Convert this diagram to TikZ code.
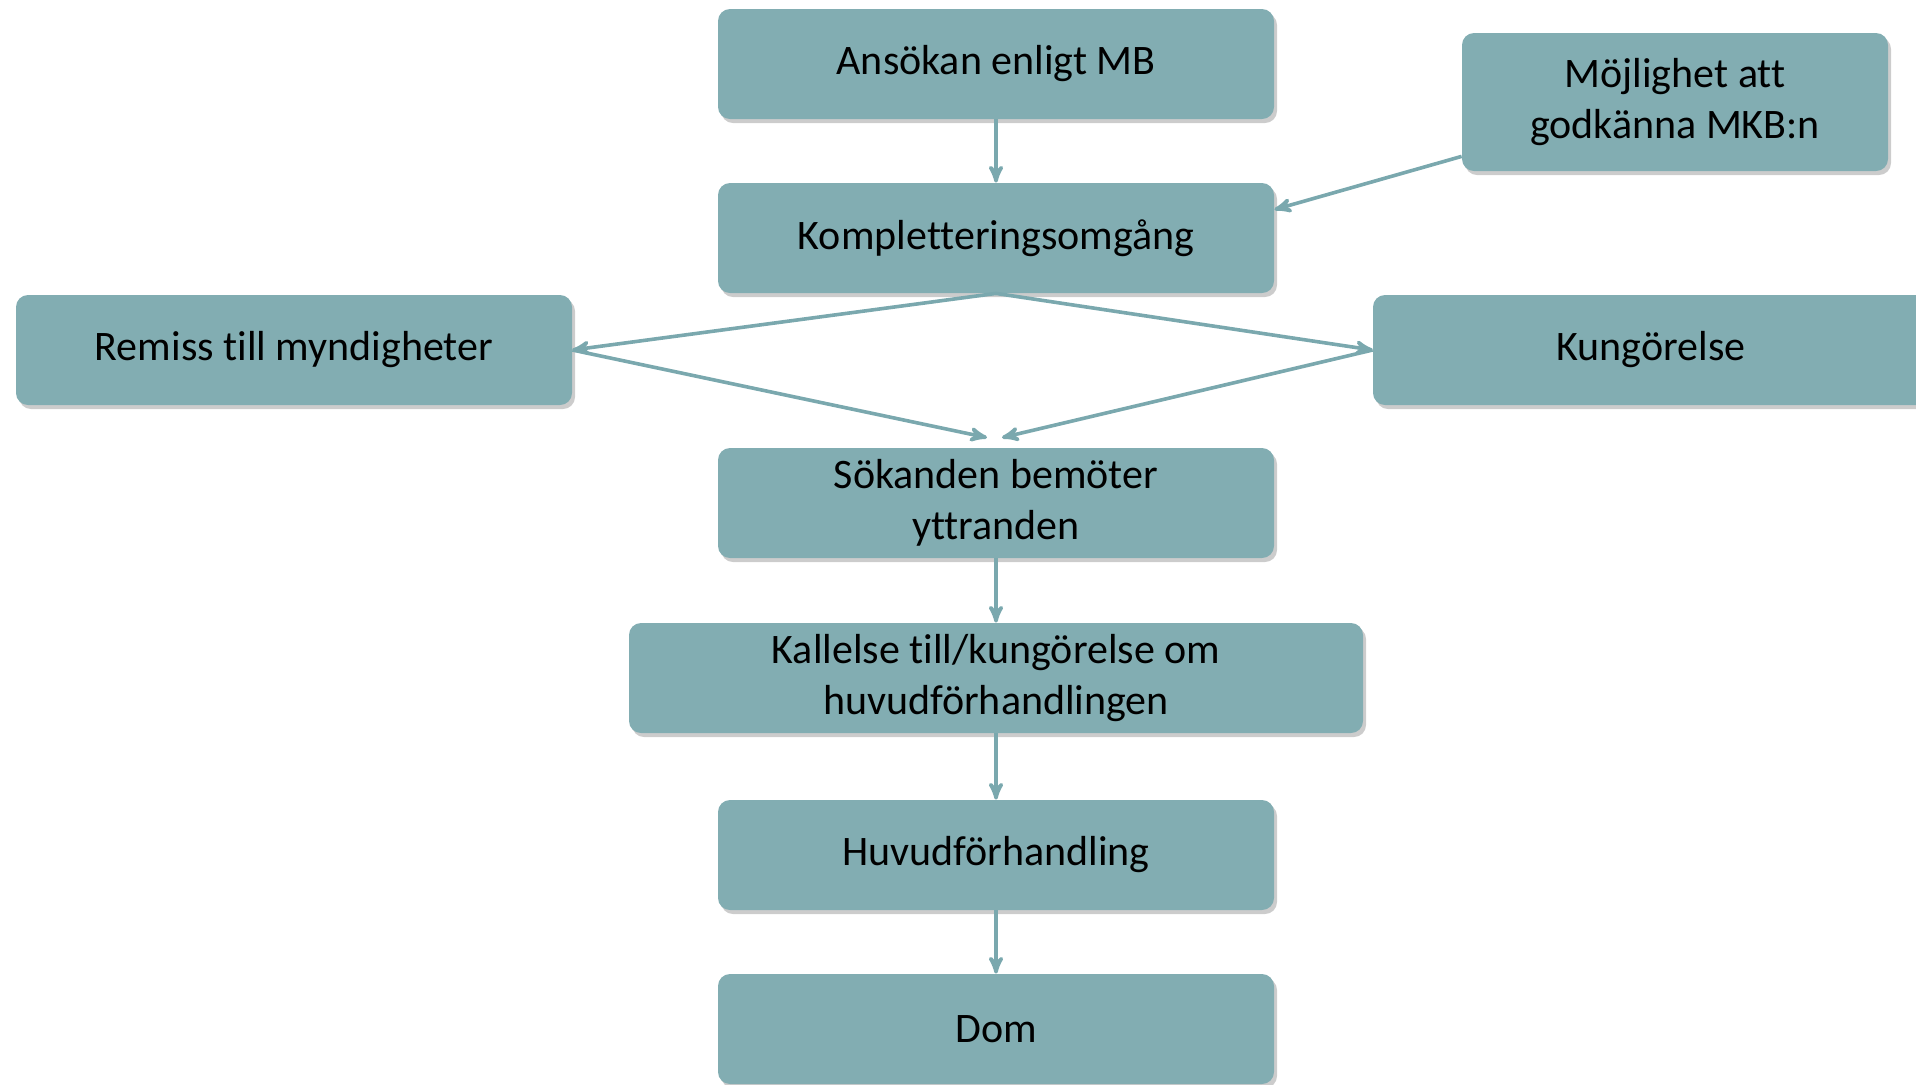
\documentclass[tikz,border=0pt]{standalone}
\usepackage{fontspec}
\setmainfont[Ligatures=NoCommon]{Carlito}
\usetikzlibrary{
  arrows,
  chains,
  scopes,
  shadows
}
\definecolor{boxfill}{HTML}{82ADB2}
\definecolor{linkcol}{HTML}{7AA8AE}

\begin{document}
\begin{tikzpicture}[
      x=0.5pt, y=-0.5pt,
      process/.style={
         rectangle,
         rounded corners=6pt,
         minimum width=278pt,
         minimum height=55pt,
         inner sep=2pt,
         fill=boxfill,
         drop shadow={shadow xshift=1.5pt,shadow yshift=-2pt,opacity=0.4},
         font=\fontsize{21}{25.5}\selectfont,
         align=center
      },
      >=stealth',
      tip/.style={->,draw=linkcol,line width=1.8pt},
      every join/.style={draw=linkcol}
    ]
  \useasboundingbox (0,0) rectangle (1916,1084);
  \node (ans)    [process] at (996,64)   {Ansökan enligt MB};
  \node (kompl)  [process] at (996,238)  {Kompletteringsomgång};
  \node (mojl)   [process, minimum width=213pt, minimum height=69pt] at (1675,102) {Möjlighet att\\godkänna MKB:n};
  \node (remiss) [process] at (294,350)  {Remiss till myndigheter};
  \node (kung)   [process] at (1651,350) {Kungörelse};
  \node (sok)    [process] at (996,503)  {Sökanden bemöter\\yttranden};
  \node (kall)   [process, minimum width=367pt] at (996,678) {Kallelse till/kungörelse om\\huvudförhandlingen};
  \node (huvud)  [process] at (996,855)  {Huvudförhandling};
  \node (dom)    [process] at (996,1029) {Dom};
  { [start chain]
       \chainin (ans);
       \chainin (kompl)  [join=by tip];
  }
  { [start chain]
       \chainin (sok);
       \chainin (kall)   [join=by tip];
  }
  { [start chain]
       \chainin (kall);
       \chainin (huvud)  [join=by tip];
  }
  { [start chain]
       \chainin (huvud);
       \chainin (dom)    [join=by tip];
  }
  \draw[tip] ([yshift=7.5pt]mojl.south west) -- ([yshift=-13.5pt]kompl.north east);
  \draw[tip] (kompl.south) -- (remiss.east);
  \draw[tip] (kompl.south) -- (kung.west);
  \draw[tip] (remiss.east) -- ([xshift=-4.5pt,yshift=5pt]sok.north);
  \draw[tip] (kung.west) -- ([xshift=3pt,yshift=5pt]sok.north);
\end{tikzpicture}
\end{document}
